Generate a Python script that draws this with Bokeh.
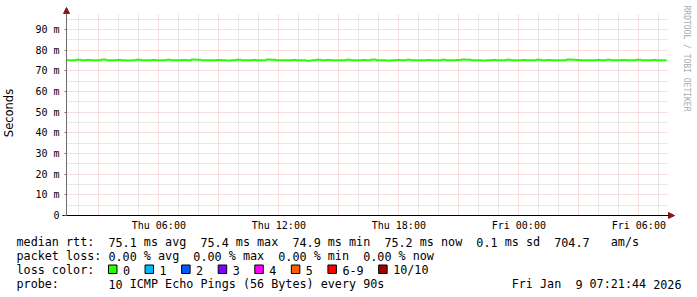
import re
import math
import datetime as dt

from bokeh.plotting import figure
from bokeh.models import (Arrow, NormalHead, FixedTicker, DatetimeTickFormatter,
                          PrintfTickFormatter, Range1d)
from bokeh.core.properties import value
from bokeh.embed import file_html
from bokeh.resources import INLINE

# ---------------- data ----------------
series_start = dt.datetime(2026, 1, 8, 1, 22)
step_minutes = 15
median_rtt_ms = [
    75.1, 75.1, 75.3, 75.1, 75.2, 75.1, 75.1, 75.4, 75.1, 75.1, 75.2,
    75.1, 75.0, 75.1, 75.3, 75.1, 75.1, 75.2, 75.1, 75.1, 75.3, 75.1,
    75.1, 75.2, 75.1, 75.4, 75.3, 75.1, 75.1, 75.1, 75.2, 75.1, 75.0,
    75.1, 75.3, 75.1, 75.1, 75.2, 75.1, 75.1, 75.4, 75.3, 75.1, 75.1,
    75.1, 75.2, 75.1, 75.1, 74.9, 75.1, 75.3, 75.1, 75.2, 75.1, 75.1,
    75.1, 75.3, 75.1, 75.1, 75.2, 75.1, 75.4, 75.1, 75.1, 75.0, 75.1,
    75.2, 75.1, 75.3, 75.1, 75.1, 75.1, 75.2, 75.1, 75.1, 75.3, 75.1,
    75.1, 75.2, 75.4, 75.3, 75.1, 75.1, 75.0, 75.1, 75.2, 75.1, 75.1,
    75.3, 75.1, 75.1, 75.2, 75.1, 75.1, 75.3, 75.1, 75.2, 75.1, 75.1,
    75.1, 75.4, 75.3, 75.2, 75.1, 75.1, 75.1, 75.2, 75.1, 75.3, 75.1,
    75.1, 75.2, 75.1, 75.1, 75.3, 75.1, 75.1, 75.2, 75.1, 75.1, 75.2,
]
times = [series_start + dt.timedelta(minutes=step_minutes * i) for i in range(len(median_rtt_ms))]

x_start = dt.datetime(2026, 1, 8, 1, 23)
x_grid_end = dt.datetime(2026, 1, 9, 7, 29)
y_grid_max_ms = 97.7

label_times = [dt.datetime(2026, 1, 8, 6), dt.datetime(2026, 1, 8, 12), dt.datetime(2026, 1, 8, 18),
               dt.datetime(2026, 1, 9, 0), dt.datetime(2026, 1, 9, 6)]
y_ticks = [0, 10, 20, 30, 40, 50, 60, 70, 80, 90]
y_minor_ticks = [5, 15, 25, 35, 45, 55, 65, 75, 85, 95]

line1 = "median rtt:  75.1 ms avg  75.4 ms max  74.9 ms min  75.2 ms now  0.1 ms sd  704.7   am/s"
line2 = "packet loss: 0.00 % avg  0.00 % max  0.00 % min  0.00 % now"
line3_head = "loss color:"
loss_labels = ["0", "1", "2", "3", "4", "5", "6-9", "10/10"]
loss_colors = ["#26ff00", "#00b8ff", "#0059ff", "#7e00ff", "#ff00ff", "#ff5e00", "#ff0000", "#a10000"]
line4 = "probe:       10 ICMP Echo Pings (56 Bytes) every 90s"
stamp = "Fri Jan  9 07:21:44 2026"
watermark = "RRDTOOL / TOBI OETIKER"

# ---------------- geometry (page pixels) ----------------
W, H = 697, 297
PLOT_L, PLOT_R = 66, 668      # grid area, x
PLOT_T, PLOT_B = 13, 215      # grid area, y
MONO = "DejaVu Sans Mono"
FS = 11.75
CW = 0.6021 * FS

EPOCH = dt.datetime(1970, 1, 1)
def ms(t):
    return (t - EPOCH).total_seconds() * 1000.0

t0 = ms(x_start)
px_per_t = (PLOT_R - PLOT_L) / (ms(x_grid_end) - t0)
px_per_y = (PLOT_B - PLOT_T) / y_grid_max_ms
def t_at(px):
    return t0 + (px - PLOT_L) / px_per_t
def y_at(py):
    return (PLOT_B - py) / px_per_y

p = figure(width=W, height=H, output_backend="svg", toolbar_location=None,
           x_axis_type="datetime",
           x_range=Range1d(t_at(0), t_at(W)), y_range=Range1d(y_at(H), y_at(0)),
           min_border=0)
p.extra_x_ranges = {"px": Range1d(0, W)}
p.extra_y_ranges = {"px": Range1d(H, 0)}
p.background_fill_color = "white"
p.border_fill_color = "white"
p.outline_line_color = None

# x axis, drawn at y = 0
xax = p.xaxis[0]
xax.fixed_location = 0
xax.bounds = (t_at(62), t_at(669))
xax.ticker = FixedTicker(ticks=[ms(t) for t in label_times], minor_ticks=[])
xax.formatter = DatetimeTickFormatter(hours="%a %H:%M", days="%a %H:%M", minutes="%a %H:%M")
xax.major_tick_out = 0
xax.major_tick_in = 0
xax.minor_tick_out = 0
xax.minor_tick_in = 0
xax.axis_line_color = "black"
xax.major_label_text_font = MONO
xax.major_label_text_font_size = "10px"
xax.major_label_text_color = "black"
xax.major_label_standoff = 4

# y axis, drawn at the start time
yax = p.yaxis[0]
yax.fixed_location = t0
yax.bounds = (0, y_at(10))
ytick = FixedTicker(ticks=y_ticks, minor_ticks=y_minor_ticks)
yax.ticker = ytick
yax.formatter = PrintfTickFormatter(format="%d m")
yax.major_label_overrides = {0: "0"}
yax.major_tick_out = 2
yax.major_tick_in = 0
yax.minor_tick_out = 0
yax.minor_tick_in = 0
yax.axis_line_color = "#6e6e6e"
yax.major_tick_line_color = "#6e6e6e"
yax.major_label_text_font = MONO
yax.major_label_text_font_size = "10px"
yax.major_label_text_color = "black"
yax.major_label_standoff = 5
yax.axis_label = "Seconds"
yax.axis_label_text_font = "DejaVu Sans"
yax.axis_label_text_font_size = "11.5px"
yax.axis_label_text_font_style = "normal"
yax.axis_label_text_color = "black"
yax.axis_label_standoff = 16

# grids
major_x, minor_x = [], []
t = dt.datetime(2026, 1, 8, 2)
while t <= dt.datetime(2026, 1, 9, 7):
    (major_x if t.hour % 3 == 0 else minor_x).append(ms(t))
    t += dt.timedelta(hours=1)
p.xgrid[0].ticker = FixedTicker(ticks=major_x, minor_ticks=minor_x)
p.ygrid[0].ticker = ytick
p.xgrid[0].cross_bounds = (0, y_grid_max_ms)
p.ygrid[0].cross_bounds = (t0, ms(x_grid_end))
for g in (p.xgrid[0], p.ygrid[0]):
    g.grid_line_color = "#eeb0b0"
    g.grid_line_dash = "1 1"
    g.grid_line_alpha = 0.85
    g.minor_grid_line_color = "#c8c8c8"
    g.minor_grid_line_dash = "1 1"
    g.minor_grid_line_alpha = 0.85

# median line
p.step(times, median_rtt_ms, mode="after", line_color="#26ff00", line_width=2)

# axis arrow heads
p.add_layout(Arrow(x_start=t0, y_start=y_at(14), x_end=t0, y_end=y_at(7),
                   line_color="#6e6e6e", line_width=1,
                   end=NormalHead(size=6, fill_color="#881818", line_color="#881818")))
p.add_layout(Arrow(x_start=t_at(665), y_start=0, x_end=t_at(674), y_end=0,
                   line_color="black", line_width=1,
                   end=NormalHead(size=6, fill_color="#881818", line_color="#881818")))

# ---------------- legend texts (page-pixel coordinates) ----------------
wx, wy, wt = [], [], []
def put_words(line, x0, yc):
    for m in re.finditer(r"\S+", line):
        wx.append(x0 + m.start() * CW)
        wy.append(yc)
        wt.append(m.group())

LX = 16
put_words(line1, LX, 241.5)
put_words(line2, LX, 255.5)
put_words(line3_head, LX, 269.5)
bl, br, bt, bb = [], [], [], []
bx = LX + 13 * CW
for name in loss_labels:
    bl.append(bx); br.append(bx + 8.5); bt.append(264.5); bb.append(273)
    lx = bx + 14.5
    put_words(name, lx, 269.5)
    bx = lx + len(name) * CW + 15
put_words(line4, LX, 283.5)
put_words(stamp, 681 - len(stamp) * CW, 283.5)

p.quad(left=bl, right=br, top=bt, bottom=bb, fill_color=loss_colors, line_color="black",
       line_width=1, x_range_name="px", y_range_name="px")
p.text(x=wx, y=wy, text=wt, text_font=value(MONO), text_font_size=value(f"{FS}px"),
       text_color="black", text_baseline="middle", text_align="left",
       x_range_name="px", y_range_name="px")

# watermark
p.text(x=[686], y=[5], text=[watermark], angle=-math.pi / 2, text_font=value(MONO),
       text_font_size=value("8px"), text_color="#aaaaaa", text_baseline="middle",
       text_align="left", x_range_name="px", y_range_name="px")

open("out.html", "w").write(file_html(p, INLINE))
